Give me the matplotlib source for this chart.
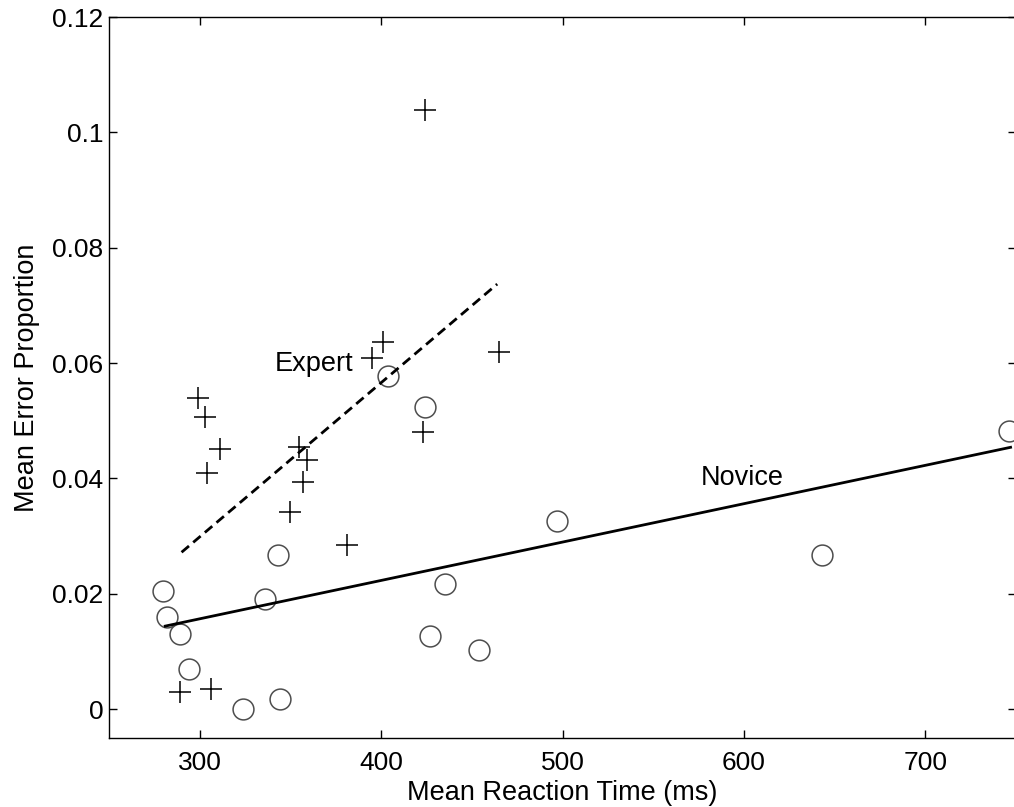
import matplotlib
matplotlib.use("Agg")
import matplotlib.pyplot as plt

matplotlib.rcParams['font.family'] = ["Liberation Sans", "DejaVu Sans"]

# expert (+) points
expertRt = [424, 299, 303, 311, 304, 355, 359, 357, 350, 381, 395, 401, 423, 465, 289, 306]
expertErr = [0.1039, 0.0539, 0.0506, 0.0451, 0.0409, 0.0454, 0.0432, 0.0394,
             0.0342, 0.0284, 0.0609, 0.0636, 0.0480, 0.0619, 0.0029, 0.0035]

# novice (o) points
noviceRt = [280, 282, 289, 294, 324, 344, 336, 343, 404, 424, 427, 435, 454, 497, 643, 746]
noviceErr = [0.0205, 0.0160, 0.0130, 0.0069, 0.0000, 0.0017, 0.0191, 0.0267,
             0.0577, 0.0524, 0.0127, 0.0217, 0.0102, 0.0326, 0.0267, 0.0482]

# fitted lines (end points)
expertFitX = [290, 464]
expertFitY = [0.0272, 0.0737]
noviceFitX = [281, 747]
noviceFitY = [0.0144, 0.0454]

fig = plt.figure(figsize=(10.14, 8.07), dpi=100)
ax = fig.add_axes([0.1075, 0.0855, 0.8945, 0.8934])

ax.plot(expertRt, expertErr, ls="none", marker="+", ms=16, mew=1.1, color="black")
ax.plot(noviceRt, noviceErr, ls="none", marker="o", ms=15, mew=1.1,
        mfc="none", mec="0.3")
ax.plot(expertFitX, expertFitY, color="black", lw=2, ls=(0, (3.5, 2)))
ax.plot(noviceFitX, noviceFitY, color="black", lw=2)

ax.text(363, 0.0598, "Expert", fontsize=19.5, ha="center", va="center")
ax.text(599, 0.0400, "Novice", fontsize=19.5, ha="center", va="center")

ax.set_xlim(250, 750)
ax.set_ylim(-0.005, 0.12)
ax.set_xticks([300, 400, 500, 600, 700])
ax.set_yticks([0, 0.02, 0.04, 0.06, 0.08, 0.1, 0.12])
ax.set_yticklabels(["0", "0.02", "0.04", "0.06", "0.08", "0.1", "0.12"])
ax.tick_params(direction="in", length=6, width=1, labelsize=19, pad=4,
               top=True, right=True)
ax.tick_params(axis="x", pad=9)
ax.set_xlabel("Mean Reaction Time (ms)", fontsize=19.5, labelpad=4)
ax.set_ylabel("Mean Error Proportion", fontsize=19.5, labelpad=9)
for s in ax.spines.values():
    s.set_linewidth(1)

plt.savefig("out.png", dpi=100)
